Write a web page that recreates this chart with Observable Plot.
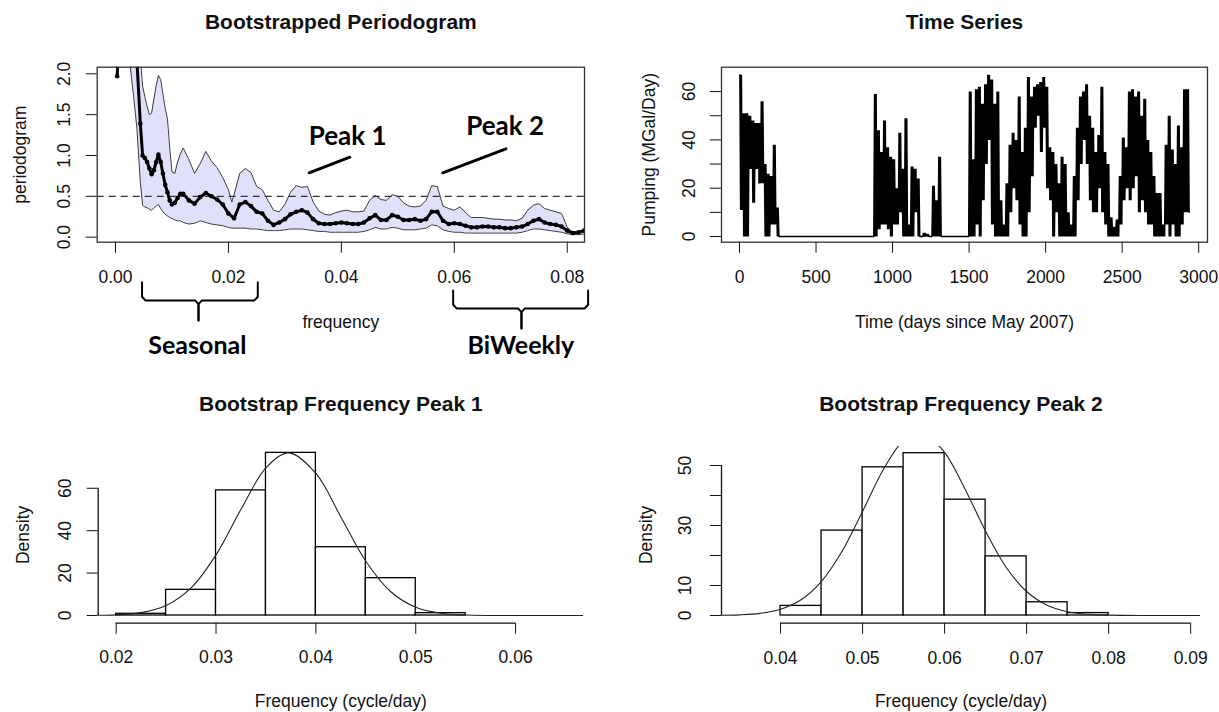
<!DOCTYPE html>
<html><head><meta charset="utf-8">
<script src="https://cdn.jsdelivr.net/npm/d3@7"></script>
<script src="https://cdn.jsdelivr.net/npm/@observablehq/plot@0.6"></script>
<style>
body{margin:0;background:#fff;}
#root{position:relative;width:1219px;height:712px;overflow:hidden;background:#fff;}
</style></head><body><div id="root"></div>
<script>
// ---------------- Panel 1: Bootstrapped periodogram ----------------
const freqTicks = [0, 0.02, 0.04, 0.06, 0.08];
const periodTicks = [0, 0.5, 1, 1.5, 2];
const bandFreq = [0.0010,0.0020,0.0026,0.0032,0.0038,0.0044,0.0048,0.0052,0.0056,0.0060,0.0064,0.0068,0.0072,0.0076,0.0080,0.0084,0.0088,0.0092,0.0096,0.0100,0.0105,0.0110,0.0115,0.0120,
  0.013,0.014,0.015,0.016,0.017,0.018,0.019,0.020,0.0206,0.021,0.022,0.023,0.024,0.025,0.026,0.027,0.028,0.029,0.030,0.031,0.032,0.033,0.034,0.035,0.036,0.037,0.038,0.039,0.040,
  0.041,0.042,0.043,0.044,0.045,0.046,0.047,0.048,0.049,0.050,0.051,0.052,0.053,0.054,0.055,0.056,0.057,0.058,0.059,0.060,0.061,0.062,0.063,0.064,0.065,0.066,0.067,0.068,0.069,0.070,
  0.071,0.072,0.073,0.074,0.075,0.076,0.077,0.078,0.079,0.080,0.081,0.082,0.083];
const bandUpper = [6,5,4,3.5,2.8,2.2,1.85,1.72,1.6,1.5,1.52,1.69,1.85,1.98,1.93,1.75,1.58,1.45,1.1,0.8,0.78,0.92,1.02,1.09,
  0.95,0.78,0.9,1.05,0.93,0.85,0.73,0.58,0.43,0.52,0.78,0.84,0.79,0.62,0.58,0.45,0.33,0.31,0.4,0.55,0.63,0.61,0.62,0.43,0.32,0.28,0.27,0.3,0.32,
  0.33,0.31,0.31,0.32,0.45,0.51,0.46,0.45,0.52,0.5,0.42,0.38,0.37,0.38,0.45,0.63,0.62,0.38,0.35,0.33,0.37,0.3,0.24,0.24,0.24,0.23,0.22,0.22,0.21,0.21,
  0.2,0.23,0.33,0.39,0.41,0.35,0.33,0.31,0.29,0.12,0.06,0.07,0.09];
const bandLower = [4,3,2.1,1.73,1.33,0.67,0.39,0.37,0.36,0.34,0.33,0.36,0.38,0.4,0.35,0.31,0.28,0.26,0.24,0.23,0.21,0.2,0.2,0.18,
  0.16,0.17,0.2,0.18,0.16,0.15,0.14,0.12,0.11,0.11,0.11,0.11,0.1,0.1,0.09,0.08,0.08,0.08,0.09,0.1,0.1,0.1,0.09,0.08,0.07,0.07,0.06,0.06,0.06,
  0.06,0.06,0.06,0.07,0.09,0.12,0.1,0.1,0.12,0.11,0.09,0.09,0.09,0.1,0.11,0.15,0.14,0.09,0.07,0.06,0.06,0.05,0.05,0.05,0.05,0.05,0.05,0.05,0.05,0.05,
  0.05,0.06,0.08,0.1,0.1,0.09,0.08,0.07,0.06,0.04,0.03,0.03,0.04];
const meanFreq = [0.0003,0.0010,0.0020,0.0030,0.0038,0.0044,0.0048,0.0052,0.0056,0.0060,0.0064,0.0068,0.0072,0.0076,0.0080,0.0084,0.0088,0.0092,0.0096,0.0100,0.0105,0.0110,0.0115,0.0120,
  0.013,0.014,0.015,0.016,0.017,0.018,0.019,0.020,0.021,0.022,0.023,0.024,0.025,0.026,0.027,0.028,0.029,0.030,0.031,0.032,0.033,0.034,0.035,0.036,0.037,0.038,0.039,0.040,
  0.041,0.042,0.043,0.044,0.045,0.046,0.047,0.048,0.049,0.050,0.051,0.052,0.053,0.054,0.055,0.056,0.057,0.058,0.059,0.060,0.061,0.062,0.063,0.064,0.065,0.066,0.067,0.068,0.069,0.070,
  0.071,0.072,0.073,0.074,0.075,0.076,0.077,0.078,0.079,0.080,0.081,0.082,0.083];
const meanValue = [1.97,3.2,2.9,2.5,2.15,1.39,1.0,0.97,0.92,0.84,0.77,0.82,0.92,1.01,0.92,0.78,0.64,0.55,0.45,0.4,0.42,0.48,0.53,0.53,
  0.45,0.41,0.49,0.54,0.5,0.46,0.4,0.29,0.23,0.4,0.43,0.38,0.31,0.29,0.2,0.15,0.18,0.22,0.28,0.31,0.33,0.3,0.22,0.17,0.16,0.16,0.17,0.18,
  0.17,0.16,0.16,0.18,0.23,0.27,0.21,0.21,0.27,0.25,0.21,0.21,0.22,0.2,0.22,0.31,0.31,0.2,0.16,0.17,0.16,0.14,0.12,0.12,0.13,0.13,0.12,0.12,0.11,0.11,
  0.12,0.13,0.16,0.2,0.22,0.18,0.16,0.15,0.13,0.08,0.05,0.06,0.08];
const peakLabels = [{x:0.0411, y:1.232, t:"Peak 1"}, {x:0.0690, y:1.355, t:"Peak 2"}];
const peakPointers = [{id:"p1", x:0.0343, y:0.788}, {id:"p1", x:0.0415, y:0.979}, {id:"p2", x:0.05795, y:0.788}, {id:"p2", x:0.06914, y:1.082}];
const rangeLabels = [{x:0.0145, y:-1.338, t:"Seasonal"}, {x:0.0718, y:-1.338, t:"BiWeekly"}];
const braces = [
  {name:"seasonal", x0:0.0047, x1:0.0252, mid:0.0147, top:-0.551, h:-0.775, tip:-1.02},
  {name:"biweekly", x0:0.0598, x1:0.0837, mid:0.0719, top:-0.652, h:-0.873, tip:-1.118}
];

// ---------------- Panel 2: Time series (20-day bins: high / low excursions) ----------------
const tsBinDays = 20;
const tsHi = [67,51,51,50,48,47,47,56,30,26,25,38,12,
  0,0,0,0,0,0,0,0,0,0,0,0,0,0,0,0,0,0,0,0,0,0,0,0,0,0,0,0,0,0,0,
  59,44,35,48,37,33,32,20,43,28,49,5,29,28,24,0,1.5,1,0,21,15,33,
  0,0,0,0,0,0,0,0,0,
  60,32,61,62,55,63,67,65,55,60,15,5,22,38,43,40,58,35,45,66,58,62,63,64,66,62,37,35,30,22,
  33,30,10,5,25,45,58,60,63,50,45,35,42,62,35,30,8,4,7,25,41,37,60,61,58,60,50,57,40,35,
  25,18,18,5,38,50,36,30,46,37,61,61];
const tsLo = [11,0,0,28,14,28,22,22,0,0,5,5,0,
  0,0,0,0,0,0,0,0,0,0,0,0,0,0,0,0,0,0,0,0,0,0,0,0,0,0,0,0,0,0,0,
  0,3,5,5,3,0,5,5,10,0,0,0,0,10,0,
  0,0,0,0,0,0,0,0,0,0,0,0,0,0,0,0,0,0,
  5,0,15,30,40,5,0,0,0,0,0,10,20,15,5,0,0,10,25,45,50,35,45,20,15,0,10,0,0,0,
  0,0,0,15,30,40,30,15,10,10,20,10,5,0,0,0,0,5,15,20,15,20,25,10,15,10,5,5,0,0,
  0,0,5,0,5,0,0,5,10,10];
const timeTicks = [0,500,1000,1500,2000,2500,3000];
const pumpTicks = [0,10,20,30,40,50,60];
const pumpLabels = [0,20,40,60];

// ---------------- Panel 3: Bootstrap frequency peak 1 ----------------
const breaks1 = [0.020,0.025,0.030,0.035,0.040,0.045,0.050,0.055];
const density1 = [0.8,12.1,59.0,76.7,32.2,17.6,1.1];
const fit1X = [0.0182,0.020,0.0225,0.025,0.0275,0.030,0.0325,0.035,0.0373,0.040,0.0425,0.045,0.0475,0.050,0.0525,0.055,0.060,0.0668];
const fit1Y = [0.09,0.30,1.34,4.68,13.0,28.6,50.1,69.6,76.7,67.0,46.5,25.6,11.2,3.89,1.07,0.23,0.0,0.0];
const h1XTicks = [0.02,0.03,0.04,0.05,0.06];
const h1YTicks = [0,20,40,60];

// ---------------- Panel 4: Bootstrap frequency peak 2 ----------------
const breaks2 = [0.040,0.045,0.050,0.055,0.060,0.065,0.070,0.075,0.080];
const density2 = [3.2,28.3,49.4,54.1,38.6,19.7,4.4,0.8];
const fit2X = [0.0328,0.035,0.0375,0.040,0.0425,0.045,0.0475,0.050,0.0525,0.055,0.0569,0.0575,0.060,0.0625,0.065,0.0675,0.070,0.0725,0.075,0.0775,0.080,0.085,0.0912];
const fit2Y = [0.07,0.21,0.71,2.08,5.24,11.4,21.4,34.7,48.5,58.4,61.0,60.7,54.4,42.1,28.1,16.1,8.0,3.42,1.26,0.40,0.11,0.0,0.0];
const h2XTicks = [0.04,0.05,0.06,0.07,0.08,0.09];
const h2YTicks = [0,10,20,30,40,50];
const h2YLabels = [0,10,30,50];

// ---------------- build ----------------
const FONT = "'Liberation Sans', Arial, Helvetica, sans-serif";
const ANNOT = "Lato, 'Open Sans', sans-serif";
const root = document.getElementById("root");
function mount(svg, left, top, w, h) {
  const d = document.createElement("div");
  d.style.cssText = `position:absolute;left:${left}px;top:${top}px;width:${w}px;height:${h}px;`;
  d.appendChild(svg); root.appendChild(d);
}
const baseStyle = {fontFamily: FONT, fontSize: "17.5px", color: "#111", background: "transparent", overflow: "visible", maxWidth: "none"};
const fmt1 = d => d.toFixed(1);

const band = bandFreq.map((f, i) => ({f, hi: bandUpper[i], lo: bandLower[i]}));
const mean = meanFreq.map((f, i) => ({f, v: meanValue[i]}));
const braceLines = braces.flatMap(b => {
  const rx = 0.0006, ry = 0.045;
  return [
    {g: b.name + "L", x: b.x0, y: b.top}, {g: b.name + "L", x: b.x0, y: b.h + ry}, {g: b.name + "L", x: b.x0 + rx, y: b.h},
    {g: b.name + "L", x: b.mid - rx, y: b.h}, {g: b.name + "L", x: b.mid, y: b.h - ry}, {g: b.name + "L", x: b.mid, y: b.tip},
    {g: b.name + "R", x: b.x1, y: b.top}, {g: b.name + "R", x: b.x1, y: b.h + ry}, {g: b.name + "R", x: b.x1 - rx, y: b.h},
    {g: b.name + "R", x: b.mid + rx, y: b.h}, {g: b.name + "R", x: b.mid, y: b.h - ry}, {g: b.name + "R", x: b.mid, y: b.tip}
  ];
});

const p1 = Plot.plot({
  width: 610, height: 356,
  marginLeft: 96.7, marginRight: 26, marginTop: 66.7, marginBottom: 114.3,
  style: baseStyle,
  x: {domain: [-0.00324, 0.08306], ticks: freqTicks, tickSize: 11, tickPadding: 17, tickFormat: d3.format(".2f"), label: null},
  y: {domain: [-0.062, 2.081], ticks: periodTicks, tickSize: 11, tickFormat: () => "", label: null},
  marks: [
    Plot.areaY(band, {x: "f", y1: "lo", y2: "hi", fill: "#e0e0fa", clip: true}),
    Plot.line(band, {x: "f", y: "hi", stroke: "#3c3c3c", strokeWidth: 1, clip: true}),
    Plot.line(band, {x: "f", y: "lo", stroke: "#3c3c3c", strokeWidth: 1, clip: true}),
    Plot.ruleY([0.5], {stroke: "#333", strokeWidth: 1.2, strokeDasharray: "7,5"}),
    Plot.line(mean, {x: "f", y: "v", stroke: "#000", strokeWidth: 3, clip: true}),
    Plot.dot(mean, {x: "f", y: "v", r: 2.3, fill: "#000", clip: true}),
    Plot.frame({stroke: "#333", strokeWidth: 1.3}),
    Plot.text(periodTicks, {y: d => d, text: fmt1, frameAnchor: "left", dx: -33, rotate: -90, textAnchor: "middle", lineAnchor: "middle"}),
    Plot.text(["periodogram"], {text: d => d, frameAnchor: "left", dx: -77, rotate: -90, textAnchor: "middle", lineAnchor: "middle"}),
    Plot.text(["frequency"], {text: d => d, frameAnchor: "bottom", dy: 80, lineAnchor: "middle"}),
    Plot.text(["Bootstrapped Periodogram"], {text: d => d, frameAnchor: "top", dy: -44.7, lineAnchor: "middle", fontWeight: "bold", fontSize: 21}),
    Plot.line(peakPointers, {x: "x", y: "y", z: "id", stroke: "#000", strokeWidth: 3}),
    Plot.text(peakLabels, {x: "x", y: "y", text: "t", fontFamily: ANNOT, fontWeight: "bold", fontSize: 26, fill: "#000", lineAnchor: "middle"}),
    Plot.line(braceLines, {x: "x", y: "y", z: "g", stroke: "#000", strokeWidth: 2}),
    Plot.text(rangeLabels, {x: "x", y: "y", text: "t", fontFamily: ANNOT, fontWeight: "bold", fontSize: 25, fill: "#000", lineAnchor: "middle"})
  ]
});
mount(p1, 0, 0, 610, 356);

// each 20-day bin swings twice between its high and low excursion, as the daily series does
const ts = tsHi.flatMap((h, i) => [
  {d: i * tsBinDays + 2.5, v: h}, {d: i * tsBinDays + 7.5, v: tsLo[i]},
  {d: i * tsBinDays + 12.5, v: h}, {d: i * tsBinDays + 17.5, v: tsLo[i]}
]);
const p2 = Plot.plot({
  width: 609, height: 356,
  marginLeft: 111, marginRight: 12, marginTop: 66.7, marginBottom: 114.3,
  style: baseStyle,
  x: {domain: [-117.6, 3057.6], ticks: timeTicks, tickSize: 11, tickPadding: 17, tickFormat: d => String(d), label: null},
  y: {domain: [-2.36, 70.1], ticks: pumpTicks, tickSize: 11, tickFormat: () => "", label: null},
  marks: [
    Plot.line(ts, {x: "d", y: "v", stroke: "#000", strokeWidth: 1.5, strokeLinejoin: "miter"}),
    Plot.frame({stroke: "#333", strokeWidth: 1.3}),
    Plot.text(pumpLabels, {y: d => d, text: d => String(d), frameAnchor: "left", dx: -32, rotate: -90, textAnchor: "middle", lineAnchor: "middle"}),
    Plot.text(["Pumping (MGal/Day)"], {text: d => d, frameAnchor: "left", dx: -72.5, rotate: -90, textAnchor: "middle", lineAnchor: "middle"}),
    Plot.text(["Time (days since May 2007)"], {text: d => d, frameAnchor: "bottom", dy: 80, lineAnchor: "middle"}),
    Plot.text(["Time Series"], {text: d => d, frameAnchor: "top", dy: -44.7, lineAnchor: "middle", fontWeight: "bold", fontSize: 21})
  ]
});
mount(p2, 610, 0, 609, 356);

function histPanel(cfg) {
  const bars = cfg.density.map((d, i) => ({x1: cfg.breaks[i], x2: cfg.breaks[i + 1], d}));
  const fit = cfg.fitX.map((x, i) => ({x, y: cfg.fitY[i]}));
  return Plot.plot({
    width: cfg.width, height: 356,
    marginLeft: cfg.ml, marginRight: cfg.mr, marginTop: 90, marginBottom: 89.3,
    style: baseStyle,
    x: {domain: cfg.xDom, ticks: cfg.xTicks, tickSize: 11, tickPadding: cfg.pad, tickFormat: d3.format(".2f"), label: null},
    y: {domain: cfg.yDom, ticks: cfg.yTicks, tickSize: 11, tickFormat: () => "", label: null},
    marks: [
      Plot.rectY(bars, {x1: "x1", x2: "x2", y: "d", fill: "#fff", stroke: "#000", strokeWidth: 1.3}),
      Plot.line(fit, {x: "x", y: "y", curve: "catmull-rom", stroke: "#222", strokeWidth: 1.1, clip: true}),
      Plot.ruleY([{y: cfg.yDom[0], a: cfg.xTicks[0], b: cfg.xTicks[cfg.xTicks.length - 1]}], {y: "y", x1: "a", x2: "b", stroke: "#111", strokeWidth: 1.3}),
      Plot.ruleX([{x: cfg.xDom[0], a: cfg.yTicks[0], b: cfg.yTicks[cfg.yTicks.length - 1]}], {x: "x", y1: "a", y2: "b", stroke: "#111", strokeWidth: 1.3}),
      Plot.text(cfg.yLabels, {y: d => d, text: d => String(d), frameAnchor: "left", dx: cfg.ldx, rotate: -90, textAnchor: "middle", lineAnchor: "middle"}),
      Plot.text(["Density"], {text: d => d, frameAnchor: "left", dx: cfg.ddx, rotate: -90, textAnchor: "middle", lineAnchor: "middle"}),
      Plot.text(["Frequency (cycle/day)"], {text: d => d, frameAnchor: "bottom", dy: 78, lineAnchor: "middle"}),
      Plot.text([cfg.title], {text: d => d, frameAnchor: "top", dy: -42, lineAnchor: "middle", fontWeight: "bold", fontSize: 21})
    ]
  });
}
mount(histPanel({width: 610, ml: 97.7, mr: 27, xDom: [0.0182, 0.0668], yDom: [-3.63, 79.7], breaks: breaks1, density: density1,
  fitX: fit1X, fitY: fit1Y, xTicks: h1XTicks, yTicks: h1YTicks, yLabels: h1YTicks, pad: 16, ldx: -32.7, ddx: -74.7,
  title: "Bootstrap Frequency Peak 1"}), 0, 356, 610, 356);
mount(histPanel({width: 609, ml: 111, mr: 19, xDom: [0.0328, 0.0912], yDom: [-2.57, 56.33], breaks: breaks2, density: density2,
  fitX: fit2X, fitY: fit2Y, xTicks: h2XTicks, yTicks: h2YTicks, yLabels: h2YLabels, pad: 17, ldx: -36, ddx: -75,
  title: "Bootstrap Frequency Peak 2"}), 610, 356, 609, 356);
</script></body></html>
